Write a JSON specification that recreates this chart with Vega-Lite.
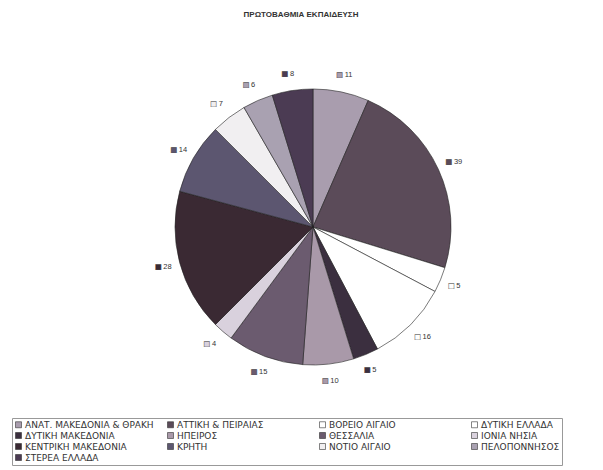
{
  "$schema": "https://vega.github.io/schema/vega-lite/v6.json",
  "width": 580,
  "height": 374,
  "autosize": {"type": "none"},
  "padding": {"left": 23, "right": 0, "top": 40, "bottom": 56},
  "background": "white",
  "title": {"text": "ΠΡΩΤΟΒΑΘΜΙΑ ΕΚΠΑΙΔΕΥΣΗ", "font": "Liberation Sans", "fontSize": 8, "fontWeight": "bold", "color": "#333", "offset": 21, "anchor": "middle", "dx": -12},
  "config": {"view": {"stroke": null}},
  "data": {"values": [
    {"order": 1, "region": "ΑΝΑΤ. ΜΑΚΕΔΟΝΙΑ & ΘΡΑΚΗ", "value": 11},
    {"order": 2, "region": "ΑΤΤΙΚΗ & ΠΕΙΡΑΙΑΣ", "value": 39},
    {"order": 3, "region": "ΒΟΡΕΙΟ ΑΙΓΑΙΟ", "value": 5},
    {"order": 4, "region": "ΔΥΤΙΚΗ ΕΛΛΑΔΑ", "value": 16},
    {"order": 5, "region": "ΔΥΤΙΚΗ ΜΑΚΕΔΟΝΙΑ", "value": 5},
    {"order": 6, "region": "ΗΠΕΙΡΟΣ", "value": 10},
    {"order": 7, "region": "ΘΕΣΣΑΛΙΑ", "value": 15},
    {"order": 8, "region": "ΙΟΝΙΑ ΝΗΣΙΑ", "value": 4},
    {"order": 9, "region": "ΚΕΝΤΡΙΚΗ ΜΑΚΕΔΟΝΙΑ", "value": 28},
    {"order": 10, "region": "ΚΡΗΤΗ", "value": 14},
    {"order": 11, "region": "ΝΟΤΙΟ ΑΙΓΑΙΟ", "value": 7},
    {"order": 12, "region": "ΠΕΛΟΠΟΝΝΗΣΟΣ", "value": 6},
    {"order": 13, "region": "ΣΤΕΡΕΑ ΕΛΛΑΔΑ", "value": 8}
  ]},
  "encoding": {
    "theta": {"field": "value", "type": "quantitative", "stack": true},
    "order": {"field": "order", "type": "quantitative"},
    "color": {
      "field": "region", "type": "nominal",
      "scale": {
        "domain": ["ΑΝΑΤ. ΜΑΚΕΔΟΝΙΑ & ΘΡΑΚΗ", "ΑΤΤΙΚΗ & ΠΕΙΡΑΙΑΣ", "ΒΟΡΕΙΟ ΑΙΓΑΙΟ", "ΔΥΤΙΚΗ ΕΛΛΑΔΑ", "ΔΥΤΙΚΗ ΜΑΚΕΔΟΝΙΑ", "ΗΠΕΙΡΟΣ", "ΘΕΣΣΑΛΙΑ", "ΙΟΝΙΑ ΝΗΣΙΑ", "ΚΕΝΤΡΙΚΗ ΜΑΚΕΔΟΝΙΑ", "ΚΡΗΤΗ", "ΝΟΤΙΟ ΑΙΓΑΙΟ", "ΠΕΛΟΠΟΝΝΗΣΟΣ", "ΣΤΕΡΕΑ ΕΛΛΑΔΑ"],
        "range": ["#a99dae", "#5b4b59", "#ffffff", "#ffffff", "#3b2f3f", "#a999a9", "#6b5b6f", "#d9d1dd", "#3a2933", "#5c5670", "#f1eff1", "#a9a1b1", "#4b3b53"]
      },
      "legend": {
        "orient": "none", "legendX": -11, "legendY": 378, "direction": "horizontal",
        "columns": 4, "title": null, "gridAlign": "all",
        "columnPadding": 12, "rowPadding": 1, "symbolType": "square", "symbolSize": 36,
        "symbolStrokeColor": "#333", "symbolStrokeWidth": 0.6, "labelOffset": 2,
        "labelFont": "DejaVu Sans", "labelFontSize": 9, "labelColor": "#333", "labelLimit": 220,
        "strokeColor": "#999", "padding": 2
      }
    }
  },
  "layer": [
    {"mark": {"type": "arc", "outerRadius": 138, "stroke": "#222", "strokeWidth": 0.6}},
    {"mark": {"type": "text", "radius": 155, "text": "■", "font": "DejaVu Sans", "fontSize": 7, "stroke": "#333", "strokeWidth": 0.4, "dx": -5}},
    {"mark": {"type": "text", "radius": 155, "align": "left", "dx": 0, "font": "Liberation Sans", "fontSize": 7.5, "fill": "#333"},
     "encoding": {"text": {"field": "value", "type": "quantitative"}, "color": {"value": "#333"}}}
  ]
}
